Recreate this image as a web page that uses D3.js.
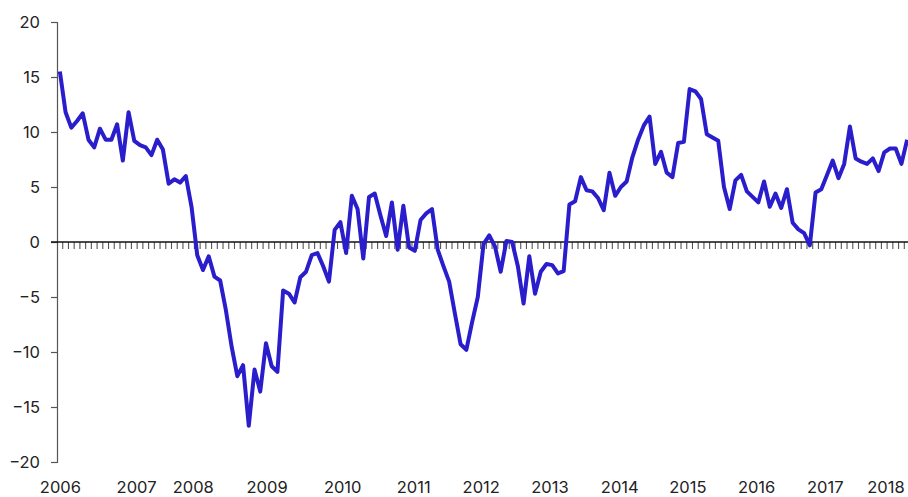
<!DOCTYPE html>
<html><head><meta charset="utf-8">
<script src="https://cdn.jsdelivr.net/npm/d3@7"></script>
<style>
html,body{margin:0;padding:0;background:#fff;}
svg{display:block;}
text{font-family:Inter,"Liberation Sans",Arial,sans-serif;fill:#222;}
</style></head>
<body><svg id="chart" width="908" height="497"></svg>
<script>
// Monthly values, Jan 2006 .. May 2018
const values = [
15.5,11.8,10.4,11.0,11.7,9.3,8.6,10.3,9.3,9.3,10.7,7.4,
11.8,9.2,8.8,8.6,7.9,9.3,8.4,5.3,5.7,5.4,6.0,3.2,
-1.2,-2.55,-1.3,-3.15,-3.5,-6.2,-9.5,-12.2,-11.2,-16.7,-11.6,-13.6,
-9.2,-11.3,-11.8,-4.4,-4.7,-5.5,-3.2,-2.7,-1.2,-1.0,-2.2,-3.6,
1.1,1.8,-1.0,4.2,3.0,-1.5,4.1,4.4,2.4,0.55,3.6,-0.7,
3.3,-0.5,-0.8,2.0,2.6,3.0,-0.7,-2.2,-3.6,-6.5,-9.3,-9.8,
-7.3,-5.0,-0.2,0.6,-0.4,-2.7,0.1,0.0,-2.2,-5.6,-1.3,-4.7,
-2.7,-2.0,-2.1,-2.85,-2.65,3.4,3.7,5.9,4.7,4.6,4.0,2.9,
6.3,4.2,5.0,5.5,7.7,9.3,10.6,11.4,7.1,8.2,6.3,5.9,
9.0,9.1,13.9,13.7,13.0,9.8,9.5,9.2,5.0,3.0,5.6,6.1,
4.6,4.1,3.6,5.5,3.2,4.4,3.1,4.8,1.75,1.15,0.8,-0.3,
4.5,4.8,6.1,7.4,5.8,7.1,10.5,7.6,7.3,7.1,7.6,6.45,
8.15,8.5,8.5,7.1,9.3
];
const yearLabels = ["2006","2007","2008","2009","2010","2011","2012","2013","2014","2015","2016","2017","2018"];
const yearLabelMonth = [0.1,13.4,23.3,36.2,49.4,61.8,73.6,85.6,97.8,109.7,121.7,133.7,144.3];
const yTicks = [-20,-15,-10,-5,0,5,10,15,20];

const svg = d3.select("#chart");
const left = 57, step = 5.725;
const n = values.length;
const x = d3.scaleLinear().domain([-0.5, n - 0.5]).range([left, left + n * step]);
const y = d3.scaleLinear().domain([-20, 20]).range([462, 22]);

// y axis
const yAxis = d3.axisLeft(y).tickValues(yTicks).tickSize(6).tickPadding(11).tickFormat(d3.format("d"));
const gy = svg.append("g").attr("transform", `translate(${left},0)`).call(yAxis);
gy.select(".domain").attr("stroke", "#555").attr("stroke-width", 1.2);
gy.selectAll(".tick line").attr("stroke", "#555").attr("stroke-width", 1.2);
gy.selectAll(".tick text").attr("font-size", 16.5).attr("fill", "#222")
  .style("font-family", "Inter,'Liberation Sans',Arial,sans-serif").attr("dy", "0.36em");

// zero line with monthly tick marks (between categories)
const boundaries = d3.range(1, n + 1).map(k => k - 0.5);
svg.append("g").selectAll("line.mt").data(boundaries).join("line")
  .attr("x1", d => x(d)).attr("x2", d => x(d))
  .attr("y1", y(0)).attr("y2", y(0) + 7)
  .attr("stroke", "#555").attr("stroke-width", 1.1);
svg.append("line").attr("x1", left - 6).attr("x2", 908).attr("y1", y(0)).attr("y2", y(0))
  .attr("stroke", "#111").attr("stroke-width", 1.4);

// year labels
svg.append("g").selectAll("text").data(yearLabels).join("text")
  .attr("x", (d, i) => x(yearLabelMonth[i]))
  .attr("y", 493)
  .attr("text-anchor", "middle")
  .attr("font-size", 16.5)
  .text(d => d);

// line
const line = d3.line().x((d, i) => x(i)).y(d => y(d));
svg.append("path").datum(values)
  .attr("d", line)
  .attr("fill", "none")
  .attr("stroke", "#2a1dcc")
  .attr("stroke-width", 4)
  .attr("stroke-linejoin", "round")
  .attr("stroke-linecap", "butt");
</script></body></html>
